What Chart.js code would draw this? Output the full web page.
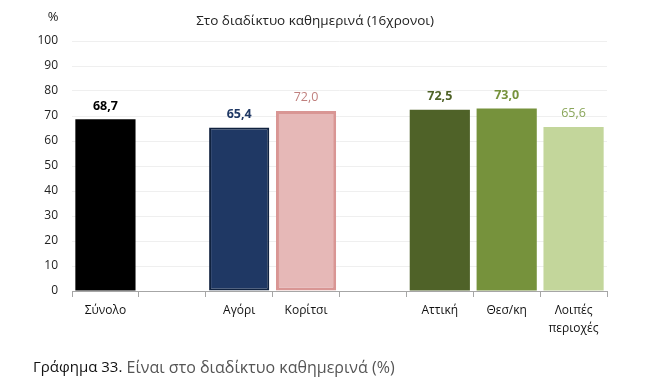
<!DOCTYPE html>
<html>
<head>
<meta charset="utf-8">
<script src="https://cdn.jsdelivr.net/npm/chart.js@4.4.1/dist/chart.umd.min.js"></script>
<style>
    html, body { margin: 0; padding: 0; background: #fff; }
    #wrap { width: 647px; height: 378px; position: relative; }
</style>
</head>
<body>
<div id="wrap"><canvas id="chart" width="647" height="378"></canvas></div>
<script>
// categories (empty slots keep the gaps between the groups)
const categories = ["Σύνολο", "", "Αγόρι", "Κορίτσι", "", "Αττική", "Θεσ/κη", ["Λοιπές", "περιοχές"]];
const values = [68.7, null, 65.4, 72.0, null, 72.5, 73.0, 65.6];
const barColors = ["#000000", "#ffffff", "#1f3864", "#e6b8b7", "#ffffff", "#4f6228", "#76923c", "#c3d69b"];
const borderColors = ["#000000", "#ffffff", "#10223f", "#d99694", "#ffffff", "#4f6228", "#76923c", "#c3d69b"];
const borderWidths = [0, 0, 2, 3, 0, 0, 0, 0];
const labelColors = ["#000000", "", "#1f3864", "#c0807e", "", "#4f6228", "#76923c", "#8aa65a"];
const labelBold = [true, false, true, false, false, true, true, false];
const yTicks = [0, 10, 20, 30, 40, 50, 60, 70, 80, 90, 100];

const chartTitle = "Στο διαδίκτυο καθημερινά (16χρονοι)";
const FONT = "'Open Sans', 'Noto Sans', sans-serif";

const fmt = (v) => v.toFixed(1).replace(".", ",");

// value labels above the bars
const valueLabels = {
    id: "valueLabels",
    afterDatasetsDraw(chart) {
        const ctx = chart.ctx;
        const meta = chart.getDatasetMeta(0);
        ctx.save();
        ctx.textAlign = "center";
        ctx.textBaseline = "bottom";
        meta.data.forEach((bar, i) => {
            const v = values[i];
            if (v === null) return;
            ctx.font = (labelBold[i] ? "bold " : "") + "12.5px " + FONT;
            ctx.fillStyle = labelColors[i];
            ctx.fillText(fmt(v), bar.x, bar.y - 7);
        });
        ctx.restore();
    },
};

// "%" unit, title and caption
const extraText = {
    id: "extraText",
    afterDraw(chart) {
        const ctx = chart.ctx;
        ctx.save();
        ctx.textBaseline = "middle";
        ctx.fillStyle = "#222";
        ctx.font = "13px " + FONT;
        ctx.textAlign = "center";
        ctx.fillText("%", 53, 17);
        ctx.font = "13.5px " + FONT;
        ctx.fillText(chartTitle, 315, 21);

        ctx.textAlign = "left";
        ctx.font = "15px " + FONT;
        ctx.fillStyle = "#111";
        const head = "Γράφημα 33.";
        ctx.fillText(head, 33, 368);
        const w = ctx.measureText(head).width;
        ctx.fillStyle = "#555";
        ctx.font = "16px " + FONT;
        ctx.fillText(" Είναι στο διαδίκτυο καθημερινά (%)", 33 + w, 368);
        ctx.restore();
    },
};

new Chart(document.getElementById("chart"), {
    type: "bar",
    data: {
        labels: categories,
        datasets: [{
            data: values,
            backgroundColor: barColors,
            borderColor: borderColors,
            borderWidth: borderWidths,
            borderSkipped: false,
            barPercentage: 0.9,
            categoryPercentage: 1.0,
        }],
    },
    options: {
        responsive: false,
        animation: false,
        events: [],
        layout: { padding: { top: 41, right: 40, bottom: 0, left: 0 } },
        plugins: {
            legend: { display: false },
            tooltip: { enabled: false },
            title: { display: false },
        },
        scales: {
            x: {
                grid: { display: true, offset: true, drawOnChartArea: false, color: "#a6a6a6", tickLength: 6 },
                border: { display: true, color: "#a6a6a6" },
                ticks: { color: "#111", font: { family: FONT, size: 12, lineHeight: 1.5 }, padding: 5, maxRotation: 0, autoSkip: false },
                afterFit: (s) => { s.height = 87; },
            },
            y: {
                min: 0,
                max: 100,
                afterBuildTicks: (s) => { s.ticks = yTicks.map((v) => ({ value: v })); },
                grid: { color: "#efefef", drawTicks: false },
                border: { display: false },
                ticks: { color: "#222", font: { family: FONT, size: 12 }, padding: 14 },
                afterFit: (s) => { s.width = 72; },
            },
        },
    },
    plugins: [valueLabels, extraText],
});
</script>
</body>
</html>
